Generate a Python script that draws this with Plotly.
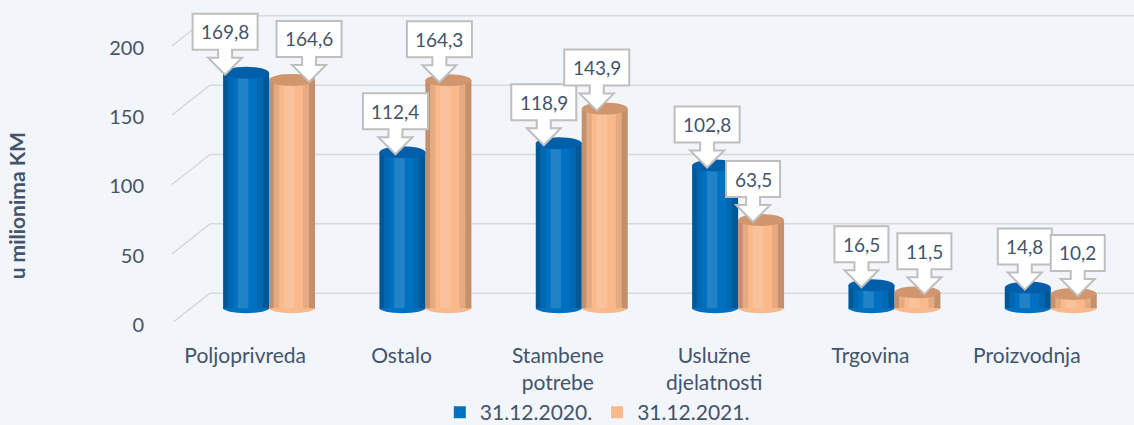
import plotly.graph_objects as go

# ---------------- data ----------------
categories = ["Poljoprivreda", "Ostalo", "Stambene<br>potrebe", "Uslužne<br>djelatnosti", "Trgovina", "Proizvodnja"]
values_2020 = [169.8, 112.4, 118.9, 102.8, 16.5, 14.8]
values_2021 = [164.6, 164.3, 143.9, 63.5, 11.5, 10.2]
series_names = ["31.12.2020.", "31.12.2021."]
y_ticks = [0, 50, 100, 150, 200]
y_title = "u milionima KM"

# ---------------- style ----------------
FONT = "Lato"
TXT = "#44546A"
BG = "#F2F5FA"
GRID = "#D6D9DE"
BLUE, BLUE_CAP = "#0070C0", "#005FA8"
ORANGE, ORANGE_CAP = "#F9B98B", "#D1966D"
BAR_W = 0.294
OFF_BLUE = -0.141
OFF_ORANGE = 0.153
CAP_PX = 6
W, H = 1134, 425
M_L, M_R, M_T, M_B = 167, 0, 10, 103
Y_RANGE = [-10, 215]
PX_PER_CAT = 156.4
X_RANGE = [-0.5, 5.5 + 29 / PX_PER_CAT]
PX_PER_Y = (H - M_T - M_B) / (Y_RANGE[1] - Y_RANGE[0])
DEPTH = 15                       # px between front floor edge and back wall
DY = DEPTH / PX_PER_Y            # same in data units
# horizontal nudges (px) of the value callouts relative to the bar centre
nudge_2020 = [-21, -7, -15, -8, -10, -3]
nudge_2021 = [17, -9, -8, -8, 7, 4]

idx = list(range(len(categories)))
fig = go.Figure()
fig.add_trace(go.Bar(x=idx, y=values_2020, name=series_names[0], width=BAR_W, offset=OFF_BLUE,
                     marker=dict(color=BLUE, line=dict(width=0))))
fig.add_trace(go.Bar(x=idx, y=values_2021, name=series_names[1], width=BAR_W, offset=OFF_ORANGE,
                     marker=dict(color=ORANGE, line=dict(width=0))))

shapes = []
annotations = []


def px_x(p):
    return X_RANGE[0] + p / PX_PER_CAT


# gridlines with a fake 3D floor (left diagonal + back wall line, plus front floor edge)
for t in y_ticks:
    shapes.append(dict(type="line", xref="x", yref="y", x0=px_x(5), y0=t - DY, x1=px_x(43), y1=t + DY,
                       line=dict(color=GRID, width=1.5), layer="below"))
    shapes.append(dict(type="line", xref="x", yref="y", x0=px_x(43), y0=t + DY, x1=X_RANGE[1], y1=t + DY,
                       line=dict(color=GRID, width=1.5), layer="below"))
shapes.append(dict(type="line", xref="x", yref="y", x0=px_x(5), y0=-DY, x1=px_x(940), y1=-DY,
                   line=dict(color=GRID, width=1.5), layer="below"))

shading = [(0.0, 0.10, "black", 0.22), (0.10, 0.22, "black", 0.08), (0.32, 0.55, "white", 0.13),
           (0.74, 0.87, "black", 0.08), (0.87, 1.0, "black", 0.22)]


def cylinder(i, v, off, base, cap):
    left = i + off
    right = left + BAR_W
    shapes.append(dict(type="circle", xref="x", x0=left, x1=right, yref="y", ysizemode="pixel",
                       yanchor=0, y0=-CAP_PX + 1, y1=CAP_PX - 1, fillcolor=base, line=dict(width=0)))
    for f0, f1, c, op in shading:
        shapes.append(dict(type="rect", xref="x", x0=left + f0 * BAR_W, x1=left + f1 * BAR_W,
                           yref="y", y0=0, y1=v, fillcolor=c, opacity=op, line=dict(width=0)))
    shapes.append(dict(type="circle", xref="x", x0=left, x1=right, yref="y", ysizemode="pixel",
                       yanchor=v, y0=-CAP_PX, y1=CAP_PX, fillcolor=cap, line=dict(width=0)))


def callout(i, v, off, dx):
    centre = i + off + BAR_W / 2
    txt = f"{v:.1f}".replace(".", ",")
    half = (65 if len(txt) >= 5 else 54) / 2
    tip = -2
    pts = [(0, 0), (-17, 17), (-7, 17), (-7, 25), (-half, 25), (-half, 61), (half, 61), (half, 25),
           (7, 25), (7, 17), (17, 17)]
    path = "M" + " L".join(f"{dx + px:.1f},{tip + py:.1f}" for px, py in pts) + " Z"
    shapes.append(dict(type="path", xref="x", xsizemode="pixel", xanchor=centre, yref="y",
                       ysizemode="pixel", yanchor=v, path=path, fillcolor="white",
                       line=dict(color="#BFBFBF", width=2)))
    annotations.append(dict(x=centre, y=v, xref="x", yref="y", text=txt, showarrow=False,
                            xshift=dx, yshift=tip + 43, font=dict(family=FONT, size=19, color=TXT)))


for i in idx:
    cylinder(i, values_2020[i], OFF_BLUE, BLUE, BLUE_CAP)
    cylinder(i, values_2021[i], OFF_ORANGE, ORANGE, ORANGE_CAP)
for i in idx:
    callout(i, values_2020[i], OFF_BLUE, nudge_2020[i])
    callout(i, values_2021[i], OFF_ORANGE, nudge_2021[i])

annotations.append(dict(text=y_title, textangle=-90, xref="paper", yref="paper", x=-0.1557, y=0.372,
                        xanchor="center", yanchor="middle", showarrow=False,
                        font=dict(family=FONT, size=21, color=TXT, weight="bold")))

fig.update_layout(
    width=W, height=H,
    margin=dict(l=M_L, r=M_R, t=M_T, b=M_B, autoexpand=False),
    paper_bgcolor=BG, plot_bgcolor=BG,
    font=dict(family=FONT, size=19, color=TXT),
    barmode="overlay",
    showlegend=True,
    legend=dict(orientation="h", x=0.445, xanchor="center", y=-0.29, yanchor="middle",
                font=dict(family=FONT, size=21, color=TXT), bgcolor="rgba(0,0,0,0)", itemwidth=30),
    shapes=shapes,
    annotations=annotations,
    xaxis=dict(range=X_RANGE, tickmode="array", tickvals=idx, ticktext=categories,
               showgrid=False, zeroline=False, showline=False, ticks="", ticklabelstandoff=19,
               tickfont=dict(family=FONT, size=21, color=TXT), fixedrange=True, automargin=False),
    yaxis=dict(range=Y_RANGE, tickmode="array", tickvals=y_ticks, showgrid=False, zeroline=False,
               showline=False, ticks="", ticklabelshift=DEPTH + 2, ticklabelstandoff=22,
               tickfont=dict(family=FONT, size=20, color=TXT), fixedrange=True, automargin=False),
)

fig.write_html("out.html", config={"displayModeBar": False},
               post_script="document.body.style.margin='0';document.body.style.overflow='hidden';"
                           "document.body.style.background='#F2F5FA';")
